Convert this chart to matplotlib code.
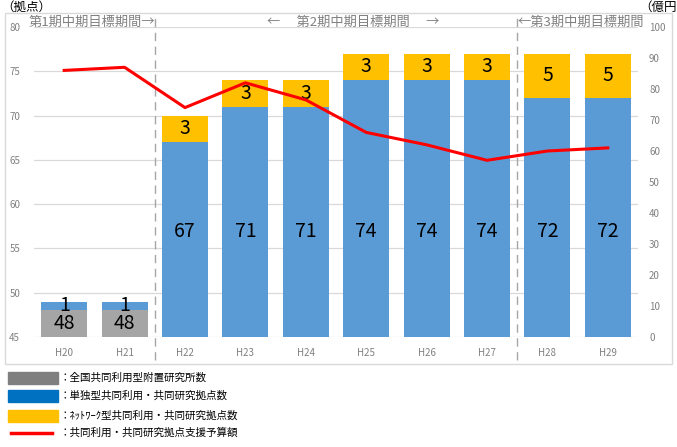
import numpy as np
import matplotlib
matplotlib.use('Agg')
import matplotlib.pyplot as plt
from matplotlib.patches import Rectangle
from matplotlib.lines import Line2D
from matplotlib.transforms import blended_transform_factory

plt.rcParams['font.family'] = ['Noto Sans CJK JP', 'DejaVu Sans']

# データ
years = ['H20', 'H21', 'H22', 'H23', 'H24', 'H25', 'H26', 'H27', 'H28', 'H29']
fuchi = [48, 48, 0, 0, 0, 0, 0, 0, 0, 0]          # 全国共同利用型附置研究所数
tandoku = [1, 1, 67, 71, 71, 74, 74, 74, 72, 72]   # 単独型共同利用・共同研究拠点数
network = [0, 0, 3, 3, 3, 3, 3, 3, 5, 5]           # ﾈｯﾄﾜｰｸ型共同利用・共同研究拠点数
budget = [86, 87, 74, 82, 76.5, 66, 62, 57, 60, 61]  # 支援予算額(億円)
left_ticks = [45, 50, 55, 60, 65, 70, 75, 80]
right_ticks = [0, 10, 20, 30, 40, 50, 60, 70, 80, 90, 100]
periods = ['第1期中期目標期間→', '←　 第2期中期目標期間　 →', '←第3期中期目標期間']

C_GRAY, C_BLUE, C_YEL, C_RED = '#A5A5A5', '#5B9BD5', '#FFC000', '#FF0000'
TICK_C = '#808080'

fig = plt.figure(figsize=(6.77, 4.47), dpi=100)
W, H = 677, 447
ax = fig.add_axes([34 / W, 1 - 337 / H, 604 / W, 310 / H])
ax2 = ax.twinx()

x = np.arange(len(years))
fuchi = np.array(fuchi)
tandoku = np.array(tandoku)
network = np.array(network)
ymin = 45

ax.bar(x, fuchi, 0.76, color=C_GRAY, zorder=2)
ax.bar(x, tandoku, 0.76, bottom=fuchi, color=C_BLUE, zorder=2)
ax.bar(x, network, 0.76, bottom=fuchi + tandoku, color=C_YEL, zorder=2)

# 各セグメントのラベル
for i in range(len(years)):
    base = 0
    for v in (fuchi[i], tandoku[i], network[i]):
        if v > 0:
            lo = max(base, ymin)
            hi = base + v
            yc = (lo + hi) / 2
            if hi - lo > 15:
                yc = 56.9  # 大きい棒は同じ高さにそろえてある
            ax.text(x[i], yc, str(v), ha='center', va='center',
                    fontsize=14, color='black', zorder=5)
        base += v

ax.set_ylim(45, 80)
ax.set_xlim(-0.5, len(years) - 0.5)
ax.set_yticks(left_ticks)
ax.yaxis.grid(True, color='#D9D9D9', lw=0.9, zorder=0)
ax.set_axisbelow(True)
ax.set_xticks(x)
ax.set_xticklabels(years)
ax.tick_params(axis='both', length=0, labelsize=7, labelcolor=TICK_C)
ax.tick_params(axis='x', pad=8)
ax.tick_params(axis='y', pad=10)

ax2.plot(x, budget, color=C_RED, lw=2.2, zorder=6)
ax2.set_ylim(0, 100)
ax2.set_yticks(right_ticks)
ax2.tick_params(axis='y', length=0, labelsize=7, labelcolor=TICK_C, pad=8)

for a in (ax, ax2):
    for s in a.spines.values():
        s.set_visible(False)

# 期間の区切り線
tr = blended_transform_factory(ax.transData, ax.transAxes)
for xd in (1.5, 7.5):
    ax.add_line(Line2D([xd, xd], [-0.075, 1.045], transform=tr, color='#A6A6A6',
                       lw=1, ls=(0, (6, 4)), clip_on=False, zorder=1))

hy = 1.016
ax.text(1.5, hy, periods[0], transform=tr, ha='right', va='center',
        fontsize=9.5, color=TICK_C)
ax.text(4.78, hy, periods[1], transform=tr, ha='center', va='center',
        fontsize=9.5, color=TICK_C)
ax.text(7.5, hy, periods[2], transform=tr, ha='left', va='center',
        fontsize=9.5, color=TICK_C)

# 単位
fig.text(1 / W, 1 - 1 / H, '（拠点）', ha='left', va='top', fontsize=9)
fig.text(639 / W, 1 - 1 / H, '（億円）', ha='left', va='top', fontsize=9)

# 外枠
fig.patches.append(Rectangle((5 / W, 1 - 364 / H), 667 / W, 351 / H,
                             transform=fig.transFigure, fill=False,
                             edgecolor='#D9D9D9', lw=1))

# 凡例
legend_items = [
    ('patch', '#7F7F7F', '：全国共同利用型附置研究所数', 378),
    ('patch', '#0070C0', '：単独型共同利用・共同研究拠点数', 396),
    ('patch', C_YEL, '：ﾈｯﾄﾜｰｸ型共同利用・共同研究拠点数', 416),
    ('line', C_RED, '：共同利用・共同研究拠点支援予算額', 433),
]
for kind, col, label, yc in legend_items:
    if kind == 'patch':
        fig.patches.append(Rectangle((8 / W, 1 - (yc + 6) / H), 50 / W, 12 / H,
                                     transform=fig.transFigure, color=col))
    else:
        fig.lines.append(Line2D([11 / W, 52 / W], [1 - yc / H, 1 - yc / H],
                                transform=fig.transFigure, color=col, lw=2.5))
    fig.text(59 / W, 1 - yc / H, label, ha='left', va='center', fontsize=7.6)

fig.savefig('out.png', dpi=100)
